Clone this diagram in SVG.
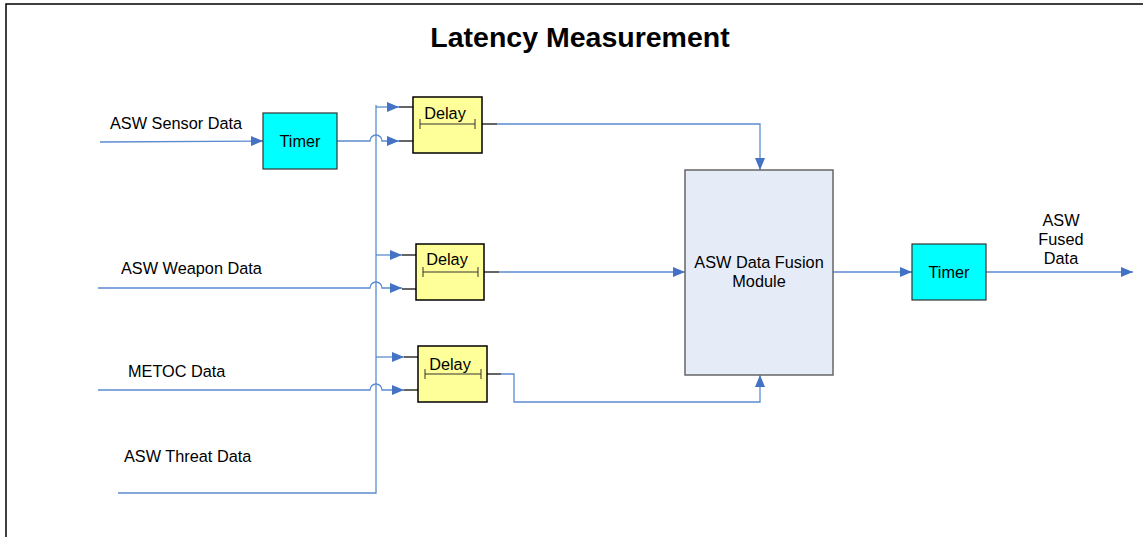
<svg xmlns="http://www.w3.org/2000/svg" width="1143" height="537" viewBox="0 0 1143 537">
<defs>
<marker id="arr" viewBox="0 0 12 10" refX="12" refY="5" markerWidth="12" markerHeight="10" markerUnits="userSpaceOnUse" orient="auto">
<path d="M0,0 L12,5 L0,10 z" fill="#4472C4"/>
</marker>
<style>
.t{font-family:"Liberation Sans",Arial,sans-serif;fill:#000}
.lbl{font-size:16.3px}
.timer{fill:#00FFFF;stroke:#333;stroke-width:1.2}
.delay{fill:#FFFF99;stroke:#000;stroke-width:1.5}
.w{fill:none;stroke:#5B8BD0;stroke-width:1.3}
.stub{fill:none;stroke:#333;stroke-width:1.3}
.bar{fill:none;stroke:#333;stroke-width:1}
</style>
</defs>
<rect width="1143" height="537" fill="#fff"/>
<path d="M6,537 V4 H1143" fill="none" stroke="#000" stroke-width="1.5"/>
<text class="t" x="580" y="47" font-size="28.5" font-weight="bold" text-anchor="middle">Latency Measurement</text>

<g id="labels">
<text class="t lbl" x="110" y="129">ASW Sensor Data</text>
<text class="t lbl" x="121" y="274">ASW Weapon Data</text>
<text class="t lbl" x="128" y="377">METOC Data</text>
<text class="t lbl" x="124" y="462">ASW Threat Data</text>
<text class="t lbl" x="1061" y="226" text-anchor="middle">ASW</text>
<text class="t lbl" x="1061" y="245" text-anchor="middle">Fused</text>
<text class="t lbl" x="1061" y="264" text-anchor="middle">Data</text>
</g>

<g id="connectors">
<path class="w" d="M100,142 L263,141" marker-end="url(#arr)"/>
<path class="w" d="M118,493 H376 V105"/>
<path class="w" d="M376,107 H399" marker-end="url(#arr)"/>
<path class="w" d="M376,255 H402" marker-end="url(#arr)"/>
<path class="w" d="M376,357 H404" marker-end="url(#arr)"/>
<path class="w" d="M337,141 H370 A6,6 0 0 1 382,141 H399" marker-end="url(#arr)"/>
<path class="w" d="M98,288 H370 A6,6 0 0 1 382,288 H402" marker-end="url(#arr)"/>
<path class="w" d="M98,390 H370 A6,6 0 0 1 382,390 H404" marker-end="url(#arr)"/>
<path class="stub" d="M399,107 H413 M399,141 H413 M402,255 H416 M402,289 H416 M404,357 H418 M404,390 H418"/>
<path class="stub" d="M482,124 H497 M484,272 H499 M487,374 H501"/>
<path class="w" d="M497,124 H760 V170" marker-end="url(#arr)"/>
<path class="w" d="M499,272 H685" marker-end="url(#arr)"/>
<path class="w" d="M501,374 H514 V402 H760 V375" marker-end="url(#arr)"/>
<path class="w" d="M833,272 H912" marker-end="url(#arr)"/>
<path class="w" d="M986,272 H1133" marker-end="url(#arr)"/>
</g>

<g id="timer1">
<rect class="timer" x="263" y="113" width="74" height="56"/>
<text class="t lbl" x="300" y="147" text-anchor="middle">Timer</text>
</g>

<g id="delay1">
<rect class="delay" x="413" y="97" width="69" height="56"/>
<text class="t lbl" x="445" y="119" text-anchor="middle">Delay</text>
<path class="bar" d="M420,124 H475 M420,119 V129 M475,119 V129"/>
</g>

<g id="delay2">
<rect class="delay" x="416" y="244" width="68" height="56"/>
<text class="t lbl" x="447" y="265" text-anchor="middle">Delay</text>
<path class="bar" d="M423,272 H478 M423,267 V277 M478,267 V277"/>
</g>

<g id="delay3">
<rect class="delay" x="418" y="346" width="69" height="56"/>
<text class="t lbl" x="450" y="370" text-anchor="middle">Delay</text>
<path class="bar" d="M425,374 H481 M425,369 V379 M481,369 V379"/>
</g>

<g id="fusion">
<rect x="685" y="170" width="148" height="205" fill="#E6ECF7" stroke="#666" stroke-width="1.5"/>
<text class="t lbl" x="759" y="268" text-anchor="middle">ASW Data Fusion</text>
<text class="t lbl" x="759" y="287" text-anchor="middle">Module</text>
</g>

<g id="timer2">
<rect class="timer" x="912" y="244" width="74" height="56"/>
<text class="t lbl" x="949" y="278" text-anchor="middle">Timer</text>
</g>
</svg>
